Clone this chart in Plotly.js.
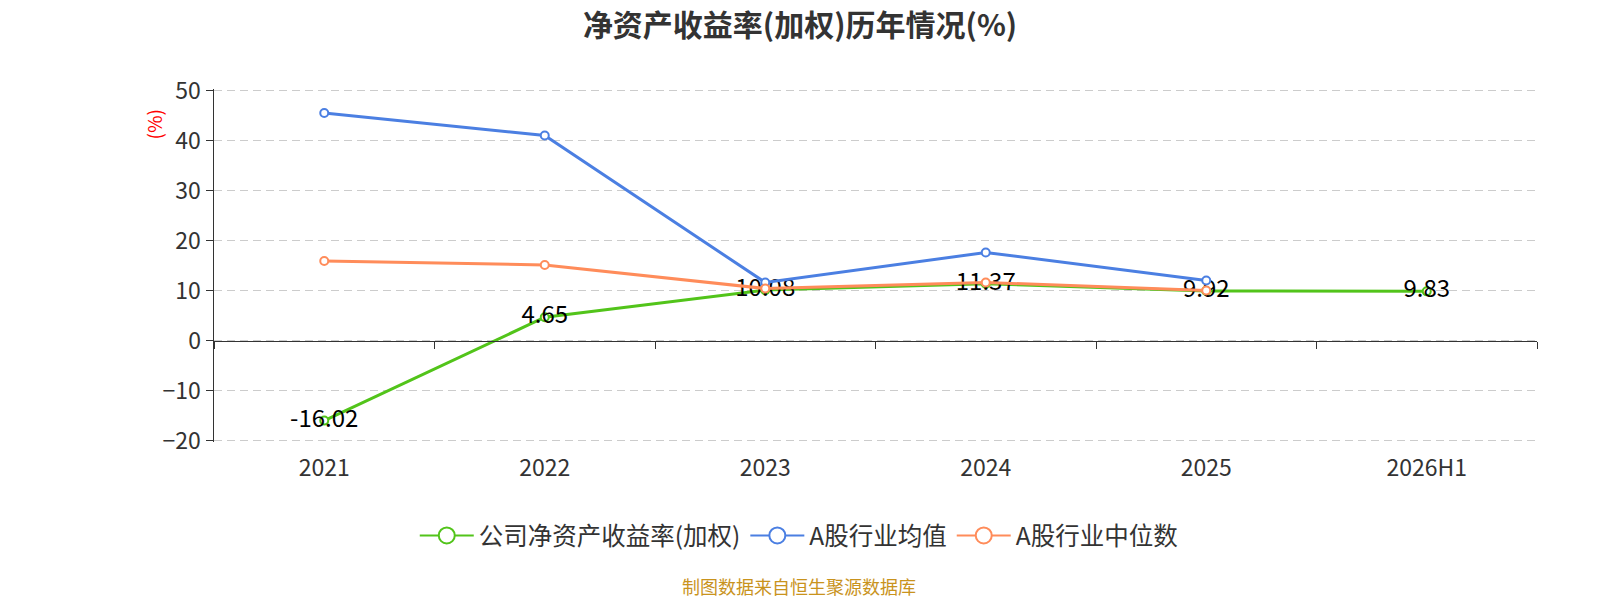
<!DOCTYPE html>
<html><head><meta charset="utf-8">
<script src="https://cdn.plot.ly/plotly-3.0.1.min.js"></script>
<style>html,body{margin:0;padding:0;background:#fff}#chart{width:1600px;height:600px}</style>
</head><body><div id="chart"></div>
<script>
var categories = ['2021','2022','2023','2024','2025','2026H1'];
var companyROE = [-16.02, 4.65, 10.08, 11.37, 9.92, 9.83];
var industryMean = [45.5, 41.0, 11.6, 17.6, 12.0, null];
var industryMedian = [15.9, 15.1, 10.4, 11.6, 10.0, null];
var seriesNames = ['公司净资产收益率(加权)', 'A股行业均值', 'A股行业中位数'];
var yTicks = [-20, -10, 0, 10, 20, 30, 40, 50];

var FONT = '"Noto Sans CJK SC", "Noto Sans", sans-serif';
var green = '#52c41a', blue = '#4b7fe2', orange = '#ff8c5a';
var colors = [green, blue, orange];
var yMin = -20.3, yMax = 50.3;

function mk(color, size) { return {symbol: 'circle', size: size, color: '#fff', line: {width: 2, color: color}}; }

var data = [
  {x: categories, y: companyROE, name: seriesNames[0], type: 'scatter', mode: 'lines+markers+text',
   line: {color: green, width: 3}, marker: mk(green, 8), showlegend: false,
   text: companyROE.map(function(v){return v.toFixed(2);}), textposition: 'middle center',
   textfont: {family: FONT, size: 24, color: '#000'}, cliponaxis: false},
  {x: categories, y: industryMean, name: seriesNames[1], type: 'scatter', mode: 'lines+markers',
   line: {color: blue, width: 3}, marker: mk(blue, 8), showlegend: false},
  {x: categories, y: industryMedian, name: seriesNames[2], type: 'scatter', mode: 'lines+markers',
   line: {color: orange, width: 3}, marker: mk(orange, 8), showlegend: false},
  {x: categories, y: categories.map(function(){return null;}), xaxis: 'x2', showlegend: false, hoverinfo: 'skip', type: 'scatter', mode: 'lines'}
];
// legend entries (no data, larger symbols like the reference legend)
seriesNames.forEach(function(n, i) {
  data.push({x: [null], y: [null], name: n, type: 'scatter', mode: 'lines+markers',
             line: {color: colors[i], width: 2}, marker: mk(colors[i], 20), showlegend: true});
});

var layout = {
  width: 1600, height: 600,
  margin: {l: 214, r: 63, t: 88.5, b: 157.5},
  paper_bgcolor: '#fff', plot_bgcolor: '#fff',
  font: {family: FONT, color: '#333'},
  title: {text: '<b>净资产收益率(加权)历年情况(%)</b>', x: 0.5, xanchor: 'center', y: 0.957, yanchor: 'middle',
          font: {family: FONT, size: 30, color: '#333'}},
  showlegend: true,
  legend: {orientation: 'h', x: 0.442, xanchor: 'center', y: -0.265, yanchor: 'middle', itemwidth: 54,
           font: {family: FONT, size: 24.5, color: '#333'}, traceorder: 'normal', itemsizing: 'trace'},
  xaxis: {type: 'category', range: [-0.5, 5.5], showgrid: false, zeroline: false, showline: false,
          ticks: '', tickfont: {family: FONT, size: 23, color: '#333'}, ticklabelstandoff: 10},
  xaxis2: {type: 'category', overlaying: 'x', anchor: 'free', position: -yMin/(yMax - yMin), range: [-0.5, 5.5],
           showline: true, linecolor: '#333', linewidth: 1.5, ticks: 'outside', tickson: 'boundaries',
           ticklen: 7, tickcolor: '#333', showticklabels: false, showgrid: false, zeroline: false, side: 'bottom'},
  yaxis: {range: [yMin, yMax], tickvals: yTicks, showgrid: true, gridcolor: '#cccccc', griddash: '8px,5px', gridwidth: 1.3,
          zeroline: false, showline: true, linecolor: '#333', linewidth: 1.5,
          ticks: 'outside', ticklen: 7, tickcolor: '#333', tickfont: {family: FONT, size: 23, color: '#333'}},
  annotations: [
    {text: '(%)', xref: 'paper', yref: 'paper', x: -0.046, y: 0.90, textangle: -90, showarrow: false,
     font: {family: FONT, size: 19, color: '#ff0000'}, xanchor: 'center', yanchor: 'middle'},
    {text: '制图数据来自恒生聚源数据库', xref: 'paper', yref: 'paper', x: 0.442, y: -0.408, showarrow: false,
     font: {family: FONT, size: 18, color: '#c9931d'}, xanchor: 'center', yanchor: 'middle'}
  ]
};

Plotly.newPlot('chart', data, layout, {displayModeBar: false, staticPlot: true});
</script></body></html>
